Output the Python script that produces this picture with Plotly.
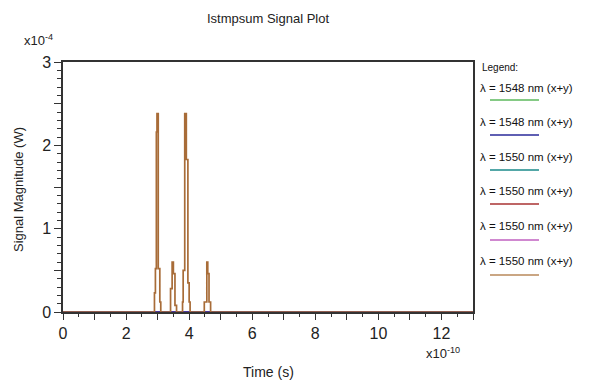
import plotly.graph_objects as go

# Time in units of 1e-10 s, signal in units of 1e-4 W
brown_t = [0, 2.90, 2.93, 2.96, 2.98, 3.02, 3.07, 3.10,
           3.41, 3.46, 3.50, 3.55, 3.60,
           3.79, 3.81, 3.86, 3.91, 3.96, 4.00, 4.03,
           4.48, 4.56, 4.59, 4.63, 4.68, 13]
brown_v = [0, 0.23, 0.52, 2.16, 2.38, 0.52, 0.12, 0,
           0.28, 0.60, 0.46, 0.08, 0,
           0.12, 0.50, 2.38, 1.83, 0.35, 0.12, 0,
           0.12, 0.60, 0.46, 0.12, 0, 0]
zero_t = [0, 13]
zero_v = [0, 0]

legend_labels = ["λ = 1548 nm (x+y)", "λ = 1548 nm (x+y)", "λ = 1550 nm (x+y)",
                 "λ = 1550 nm (x+y)", "λ = 1550 nm (x+y)", "λ = 1550 nm (x+y)"]
colors = ["#5cb85c", "#2a2a9a", "#1a8a8a", "#a83232", "#c060c0", "#b8895a"]

fig = go.Figure()
for i in [0, 2, 3, 4, 1]:
    fig.add_trace(go.Scatter(x=zero_t, y=zero_v, mode="lines",
                             line=dict(color=colors[i], width=1.5),
                             showlegend=False, hoverinfo="skip"))
fig.add_trace(go.Scatter(x=brown_t, y=brown_v, mode="lines",
                         line=dict(color="#a86c38", width=1.7, shape="hv"),
                         showlegend=False))

L, R, T, B = 63, 473, 62, 312
W, H = 598, 382
pw, ph = R - L, B - T

def px(x):
    return (x - L) / pw

def py(y):
    return (B - y) / ph

font = "Liberation Sans, Arial, sans-serif"

def note(text, x, y, size, xanchor="center", angle=0, color="#222"):
    return dict(text=text, x=px(x), y=py(y), xref="paper", yref="paper",
                xanchor=xanchor, yanchor="middle", textangle=angle, showarrow=False,
                font=dict(size=size, color=color, family=font))

ann = [
    note("Istmpsum Signal Plot", 268, 18, 13),
    note("x10<sup>-4</sup>", 22, 40, 13, xanchor="left"),
    note("x10<sup>-10</sup>", 424, 353, 13, xanchor="left"),
    note("Time (s)", 268, 372, 14),
    note("Signal Magnitude (W)", 18, 190, 13, angle=-90),
    note("Legend:", 480, 67, 10, xanchor="left", color="#111"),
]

text_y = [88, 122, 157, 191, 226, 261]
line_y = [100, 135, 170, 204, 240, 275]
shapes = []
for lab, c, ty, ly in zip(legend_labels, colors, text_y, line_y):
    ann.append(note(lab, 478, ty, 11.5, xanchor="left", color="#111"))
    shapes.append(dict(type="line", xref="paper", yref="paper", x0=px(490), x1=px(539),
                       y0=py(ly), y1=py(ly), line=dict(color=c, width=1.5)))

fig.update_layout(
    width=W, height=H,
    margin=dict(l=L, r=W - R, t=T, b=H - B),
    paper_bgcolor="white", plot_bgcolor="white",
    showlegend=False,
    annotations=ann, shapes=shapes,
    font=dict(family=font, color="#222"),
)
fig.update_xaxes(range=[0, 13], showgrid=False, zeroline=False,
                 showline=True, linecolor="#333", linewidth=1.5, mirror=True,
                 tickmode="array", tickvals=list(range(0, 14)),
                 ticktext=[str(v) if v % 2 == 0 else "" for v in range(0, 14)],
                 ticks="outside", ticklen=6, tickcolor="#333", tickwidth=1,
                 minor=dict(dtick=0.5, ticklen=3, tickcolor="#333", ticks="outside", showgrid=False),
                 tickfont=dict(size=16, color="#222", family=font))
fig.update_yaxes(range=[0, 3], showgrid=False, zeroline=False,
                 showline=True, linecolor="#333", linewidth=1.5, mirror=True,
                 tickmode="array", tickvals=[0, 0.5, 1, 1.5, 2, 2.5, 3],
                 ticktext=["0", "", "1", "", "2", "", "3"],
                 ticks="outside", ticklen=7, tickcolor="#333", tickwidth=1,
                 minor=dict(dtick=0.1, ticklen=4, tickcolor="#333", ticks="outside", showgrid=False),
                 tickfont=dict(size=16, color="#222", family=font))

fig.write_html("out.html", config={"displayModeBar": False},
               post_script="document.body.style.margin='0';document.body.style.padding='0';")
